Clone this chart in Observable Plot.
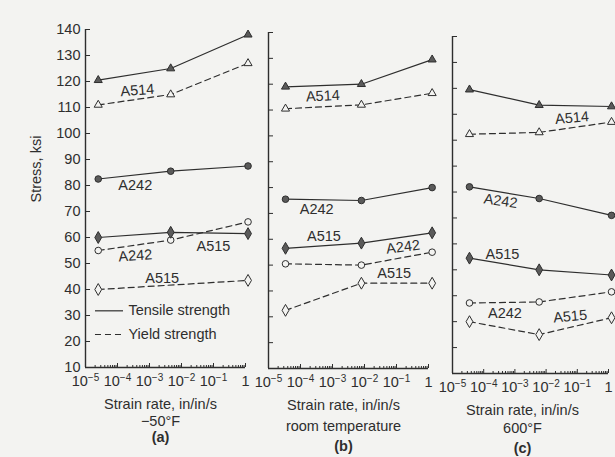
<!DOCTYPE html>
<html><head><meta charset="utf-8">
<script src="https://cdn.jsdelivr.net/npm/d3@7"></script>
<script src="https://cdn.jsdelivr.net/npm/@observablehq/plot@0.6"></script>
<style>
body{margin:0;background:#f3f3f1;}
#chart{position:relative;width:615px;height:457px;overflow:hidden;background:#f3f3f1;}
#chart svg{position:absolute;top:0;overflow:visible;}
</style></head><body><div id="chart"></div>
<script>
// ---- axes ----
const yDomain = [10, 140];
const yTicks = [10, 20, 30, 40, 50, 60, 70, 80, 90, 100, 110, 120, 130, 140];
const xDomain = [1e-5, 1];
const xTicks = [1e-5, 1e-4, 1e-3, 1e-2, 1e-1, 1];
const minorTicks = d3.range(-5, 0).flatMap(e => d3.range(2, 10).map(m => m * 10 ** e));

// ---- strain rates (in/in/s) read per panel ----
const rateA = [2.5e-5, 4.6e-3, 1.2];
const rateB = [3.4e-5, 8e-3, 1.3];
const rateC = [3.5e-5, 6e-3, 1.25];

// ---- panel (a) -50°F, stress ksi ----
const a_A514_tensile = [120.5, 125, 138];
const a_A514_yield   = [111, 115, 127];
const a_A242_tensile = [82.5, 85.5, 87.5];
const a_A242_yield   = [55, 59, 66];
const a_A515_tensile = [60, 62, 61.5];
const a_A515_yield   = [40, null, 43.5];

// ---- panel (b) room temperature ----
const b_A514_tensile = [119, 120, 129.5];
const b_A514_yield   = [110.5, 112, 116.5];
const b_A242_tensile = [75.5, 75, 80];
const b_A242_yield   = [50.5, 50, 55];
const b_A515_tensile = [56.5, 58.5, 62.5];
const b_A515_yield   = [32.5, 43, 43];

// ---- panel (c) 600°F ----
const c_A514_tensile = [119.5, 113.5, 113];
const c_A514_yield   = [102.3, 103, 107];
const c_A242_tensile = [82, 77.5, 71];
const c_A242_yield   = [37.2, 37.6, 41.5];
const c_A515_tensile = [54.5, 50, 48];
const c_A515_yield   = [30, 25, 31.5];

// ---- in-plot labels ----
const a_labelText = ["A514", "A242", "A242", "A515", "A515"];
const a_labelX = [4.2e-4, 3.6e-4, 3.6e-4, 0.1, 2.5e-3];
const a_labelY = [116.6, 80, 53, 56.6, 44.1];
const a_labelRot = [-4, 0, -4, 0, 0];

const b_labelText = ["A514", "A242", "A515", "A242", "A515"];
const b_labelX = [5e-4, 3.2e-4, 5.4e-4, 0.16, 0.085];
const b_labelY = [115.4, 71.4, 61, 57, 46.8];
const b_labelRot = [-3, 0, 0, -7, 0];

const c_labelText = ["A514", "A242", "A515", "A242", "A515"];
const c_labelX = [0.068, 3.5e-4, 4e-4, 4.8e-4, 0.059];
const c_labelY = [108.6, 76.5, 56.1, 33.2, 32];
const c_labelRot = [-5, 8, 0, 0, -5];

// ---- legend (panel a) ----
const legendText = ["Tensile strength", "Yield strength"];
const legendY = [31.8, 22.7];
const legendX1 = 2.05e-5, legendX2 = 1.54e-4, legendTextX = 2.2e-4;

// ---- captions ----
const captionsA = ["Strain rate, in/in/s", "\u221250\u00b0F", "(a)"];
const captionsB = ["Strain rate, in/in/s", "room temperature", "(b)"];
const captionsC = ["Strain rate, in/in/s", "600\u00b0F", "(c)"];

const INK = "#2e2e2e";
const BG = "#f3f3f1";
const FONT = "'Liberation Sans', Arial, Helvetica, sans-serif";
const FS = 14.5;

const fmt = d => d === 1 ? "1" : "10^" + Math.round(Math.log10(d));

function seriesList(rates, p) {
  return [
    {name: "A514", kind: "tensile", symbol: "triangle", values: p.A514_tensile},
    {name: "A514", kind: "yield", symbol: "triangle", values: p.A514_yield},
    {name: "A242", kind: "tensile", symbol: "circle", values: p.A242_tensile},
    {name: "A242", kind: "yield", symbol: "circle", values: p.A242_yield},
    {name: "A515", kind: "tensile", symbol: "diamond", values: p.A515_tensile},
    {name: "A515", kind: "yield", symbol: "diamond", values: p.A515_yield}
  ].map(s => ({...s, rows: s.values.map((v, i) => ({rate: rates[i], value: v})).filter(d => d.value != null)}));
}

function makePanel(o) {
  const series = seriesList(o.rates, o.data);
  const labels = o.labelText.map((t, i) => ({text: t, x: o.labelX[i], y: o.labelY[i], rot: o.labelRot[i]}));
  const marks = [
    Plot.ruleX([xDomain[0]], {stroke: INK, strokeWidth: 1.4}),
    Plot.ruleY([yDomain[0]], {stroke: INK, strokeWidth: 1.4}),
    Plot.axisY(yTicks, {tickSize: 5, dx: 5, fill: "none", stroke: INK, label: null}),
    Plot.axisX(xTicks, {tickSize: 4, dy: -4, fill: "none", stroke: INK, label: null}),
    Plot.axisX(minorTicks, {tickSize: 2, dy: -2, fill: "none", stroke: INK, label: null}),
    Plot.axisX(xTicks, {tickSize: 0, tickPadding: 8, tickFormat: fmt, fill: INK, label: null, fontSize: FS})
  ];
  if (o.showY) {
    marks.push(Plot.axisY(yTicks, {tickSize: 0, tickPadding: 5, fill: INK, label: null, fontSize: FS}));
    marks.push(Plot.text(["Stress, ksi"], {frameAnchor: "left", dx: -49, dy: 4, rotate: -90, fill: INK, fontSize: FS}));
  }
  for (const s of series) {
    marks.push(Plot.line(s.rows, {x: "rate", y: "value", stroke: INK, strokeWidth: 1.2,
      strokeDasharray: s.kind === "yield" ? "6,4" : null}));
  }
  for (const s of series) {
    marks.push(Plot.dot(s.rows, {x: "rate", y: "value", symbol: s.symbol,
      r: s.symbol === "circle" ? 3.3 : s.symbol === "triangle" ? 3 : 3.6,
      fill: s.kind === "tensile" ? "#5a5a5a" : BG, stroke: INK, strokeWidth: 1}));
  }
  marks.push(Plot.text(labels, {x: "x", y: "y", text: "text", rotate: "rot", fill: INK, fontSize: FS}));
  if (o.legend) {
    legendText.forEach((t, i) => {
      marks.push(Plot.ruleY([legendY[i]], {x1: legendX1, x2: legendX2, stroke: INK, strokeWidth: 1.2, strokeDasharray: i ? "6,4" : null}));
    });
    marks.push(Plot.text(legendText.map((t, i) => ({t, y: legendY[i]})), {x: () => legendTextX, y: "y", text: "t", textAnchor: "start", fill: INK, fontSize: FS}));
  }
  o.captions.forEach((c, i) => {
    marks.push(Plot.text([c], {frameAnchor: "bottom", dy: o.capDy[i], dx: o.capDx, fill: INK, fontSize: FS,
      fontWeight: i === 2 ? "bold" : "normal"}));
  });
  const svg = Plot.plot({
    width: o.width, height: 457,
    marginLeft: o.ml, marginRight: o.mr, marginTop: o.mt, marginBottom: 457 - o.bottom,
    x: {type: "log", domain: xDomain},
    y: {domain: yDomain},
    style: {background: "transparent", fontFamily: FONT, fontSize: FS + "px", color: INK, overflow: "visible"},
    marks
  });
  // render powers of ten with a raised exponent
  d3.select(svg).selectAll("text").each(function () {
    const m = /^10\^(-?\d+)$/.exec(this.textContent);
    if (!m) return;
    const t = d3.select(this);
    t.text(null);
    t.append("tspan").text("10");
    t.append("tspan").attr("dy", "-0.45em").attr("font-size", "10px").text(m[1].replace("-", "\u2212"));
  });
  svg.style.left = o.left + "px";
  document.getElementById("chart").appendChild(svg);
}

makePanel({left: 0, width: 250, ml: 85, mr: 5, mt: 29, bottom: 367, rates: rateA, showY: true, legend: true,
  data: {A514_tensile: a_A514_tensile, A514_yield: a_A514_yield, A242_tensile: a_A242_tensile, A242_yield: a_A242_yield, A515_tensile: a_A515_tensile, A515_yield: a_A515_yield},
  labelText: a_labelText, labelX: a_labelX, labelY: a_labelY, labelRot: a_labelRot,
  captions: captionsA, capDy: [41, 58, 74], capDx: -5});
makePanel({left: 250, width: 185, ml: 18, mr: 7, mt: 32, bottom: 368, rates: rateB,
  data: {A514_tensile: b_A514_tensile, A514_yield: b_A514_yield, A242_tensile: b_A242_tensile, A242_yield: b_A242_yield, A515_tensile: b_A515_tensile, A515_yield: b_A515_yield},
  labelText: b_labelText, labelX: b_labelX, labelY: b_labelY, labelRot: b_labelRot,
  captions: captionsB, capDy: [41, 62, 82], capDx: -5});
makePanel({left: 435, width: 180, ml: 17, mr: 7, mt: 36, bottom: 373, rates: rateC,
  data: {A514_tensile: c_A514_tensile, A514_yield: c_A514_yield, A242_tensile: c_A242_tensile, A242_yield: c_A242_yield, A515_tensile: c_A515_tensile, A515_yield: c_A515_yield},
  labelText: c_labelText, labelX: c_labelX, labelY: c_labelY, labelRot: c_labelRot,
  captions: captionsC, capDy: [41, 59, 79], capDx: -8});
</script></body></html>
